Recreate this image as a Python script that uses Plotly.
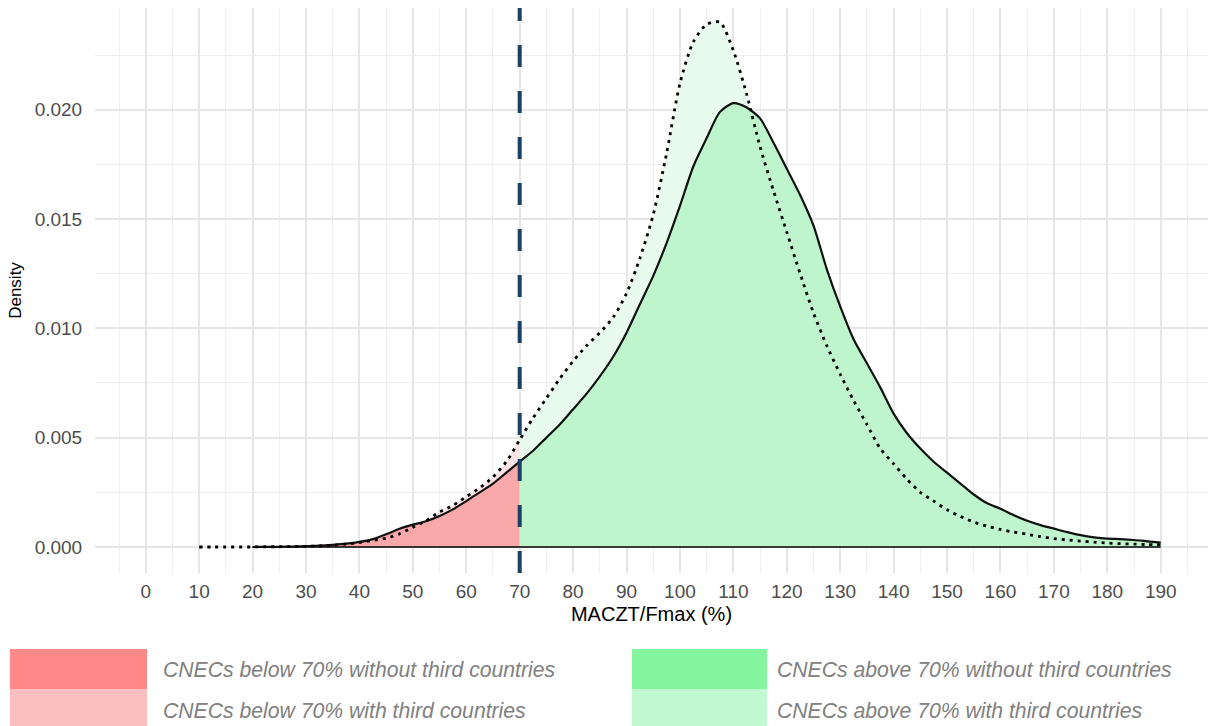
import plotly.graph_objects as go

# ---------------- data ----------------
threshold = 70

with_x = [10, 12.5, 15, 17.5, 20, 22.5, 25, 27.5, 30, 32.5, 35, 37.5, 40, 42.5, 45, 47.5,
          50, 52.5, 55, 57.5, 60, 62.5, 65, 67.5, 70, 72.5, 75, 77.5, 80, 82.5, 85, 87.5,
          90, 92.5, 95, 97.5, 100, 102.5, 105, 107.5, 110, 112.5, 115, 117.5, 120, 122.5,
          125, 127.5, 130, 132.5, 135, 137.5, 140, 142.5, 145, 147.5, 150, 152.5, 155,
          157.5, 160, 162.5, 165, 167.5, 170, 172.5, 175, 177.5, 180, 182.5, 185, 187.5, 190]
with_y = [0, 0, 0, 0, 0, 0.00001, 0.00001, 0.00002, 0.00003, 0.00005, 0.00008, 0.00013,
          0.0002, 0.0003, 0.0004, 0.0006, 0.0009, 0.0012, 0.0016, 0.0019, 0.0023, 0.0027,
          0.0032, 0.0039, 0.0049, 0.0059, 0.0068, 0.0077, 0.0085, 0.0092, 0.0098, 0.0105,
          0.0116, 0.0132, 0.0152, 0.0180, 0.0212, 0.0231, 0.0239, 0.0240, 0.0227, 0.0207,
          0.0183, 0.0163, 0.0144, 0.0125, 0.0107, 0.0092, 0.0079, 0.0067, 0.0056, 0.0045,
          0.0038, 0.0031, 0.0025, 0.0021, 0.0017, 0.0014, 0.00114, 0.00095, 0.0008,
          0.00068, 0.00058, 0.00047, 0.00038, 0.00032, 0.00027, 0.00022, 0.00018, 0.00015,
          0.00013, 0.00011, 0.0001]

without_x = [20, 22.5, 25, 27.5, 30, 32.5, 35, 37.5, 40, 42.5, 45, 47.5, 50, 52.5, 55, 57.5,
             60, 62.5, 65, 67.5, 70, 72.5, 75, 77.5, 80, 82.5, 85, 87.5, 90, 92.5, 95, 97.5,
             100, 102.5, 105, 107.5, 110, 112.5, 115, 117.5, 120, 122.5, 125, 127.5, 130,
             132.5, 135, 137.5, 140, 142.5, 145, 147.5, 150, 152.5, 155, 157.5, 160, 162.5,
             165, 167.5, 170, 172.5, 175, 177.5, 180, 182.5, 185, 187.5, 190]
without_y = [0, 0.000005, 0.00001, 0.00002, 0.00004, 0.00006, 0.0001, 0.00015, 0.00023,
             0.00036, 0.00058, 0.00083, 0.00102, 0.00118, 0.00142, 0.00172, 0.0021, 0.0025,
             0.0029, 0.0034, 0.0039, 0.0044, 0.0050, 0.0056, 0.0063, 0.0070, 0.0078, 0.0087,
             0.0098, 0.0111, 0.0124, 0.0139, 0.0156, 0.0174, 0.0187, 0.0199, 0.0203, 0.0201,
             0.0196, 0.0185, 0.0173, 0.0161, 0.0147, 0.0127, 0.0110, 0.0095, 0.0084, 0.0073,
             0.0061, 0.0052, 0.0045, 0.0039, 0.0034, 0.0029, 0.0024, 0.0020, 0.00175,
             0.00145, 0.0012, 0.0010, 0.00084, 0.00068, 0.00054, 0.00044, 0.00038, 0.00036,
             0.00032, 0.00026, 0.0002]

x_ticks = list(range(0, 200, 10))
y_ticks = [0, 0.005, 0.010, 0.015, 0.020]

legend_labels = ["CNECs below 70% without third countries",
                 "CNECs below 70% with third countries",
                 "CNECs above 70% without third countries",
                 "CNECs above 70% with third countries"]
legend_colors = ["#FF8888", "#FCBFBF", "#84F59E", "#C0F8D1"]

# fill colours as rendered in the panel
fill_with_below = "#FCE4E4"
fill_with_above = "#E9FBEE"
fill_without_below = "#F9A9A9"
fill_without_above = "#BEF5CC"


def split(xs, ys, thr):
    lo = [(a, b) for a, b in zip(xs, ys) if a <= thr]
    hi = [(a, b) for a, b in zip(xs, ys) if a >= thr]
    return ([p[0] for p in lo], [p[1] for p in lo]), ([p[0] for p in hi], [p[1] for p in hi])


fig = go.Figure()

(wl_x, wl_y), (wh_x, wh_y) = split(with_x, with_y, threshold)
(nl_x, nl_y), (nh_x, nh_y) = split(without_x, without_y, threshold)

SM = 0.7
for xs, ys, col in [(wl_x, wl_y, fill_with_below), (wh_x, wh_y, fill_with_above),
                    (nl_x, nl_y, fill_without_below), (nh_x, nh_y, fill_without_above)]:
    fig.add_trace(go.Scatter(x=xs, y=ys, mode="lines", fill="tozeroy", fillcolor=col,
                             line=dict(width=0, shape="spline", smoothing=SM),
                             hoverinfo="skip", showlegend=False))

# baseline of the solid density outline
fig.add_trace(go.Scatter(x=[min(without_x), max(without_x)], y=[0, 0], mode="lines",
                         line=dict(color="black", width=1.5), showlegend=False, hoverinfo="skip"))

# curves
fig.add_trace(go.Scatter(x=without_x, y=without_y, mode="lines",
                         line=dict(color="#111111", width=2.2, shape="spline", smoothing=SM),
                         showlegend=False))
fig.add_trace(go.Scatter(x=with_x, y=with_y, mode="lines",
                         line=dict(color="black", width=2.8, dash="3px,5px", shape="spline",
                                   smoothing=SM),
                         showlegend=False))

# threshold line
fig.add_shape(type="line", x0=threshold, x1=threshold, y0=0, y1=1, xref="x", yref="paper",
              line=dict(color="#1C3F66", width=4, dash="22px,24px"), layer="above")

# custom legend (below the plot)
PL, PT, PW, PH = 95, 8, 1113, 565


def px2paper_x(px):
    return (px - PL) / PW


def px2paper_y(py):
    return (PT + PH - py) / PH


boxes = [(10, 147, 649, 689), (10, 147, 689, 730), (632, 767, 649, 689), (632, 767, 689, 730)]
text_pos = [(161, 669), (161, 710), (775, 669), (775, 710)]
for (x0, x1, y0, y1), col, lab, (tx, ty) in zip(boxes, legend_colors, legend_labels, text_pos):
    fig.add_shape(type="rect", xref="paper", yref="paper",
                  x0=px2paper_x(x0), x1=px2paper_x(x1), y0=px2paper_y(y1), y1=px2paper_y(y0),
                  fillcolor=col, line=dict(width=0), layer="above")
    fig.add_annotation(xref="paper", yref="paper", x=px2paper_x(tx), y=px2paper_y(ty),
                       text="<i>" + lab + "</i>", showarrow=False, xanchor="left",
                       yanchor="middle",
                       font=dict(family="Liberation Sans, Arial", size=21.2, color="#808080"))

fig.update_layout(
    width=1208, height=726,
    margin=dict(l=PL, r=0, t=PT, b=726 - PT - PH, pad=0),
    paper_bgcolor="white", plot_bgcolor="white",
    font=dict(family="Liberation Sans, Arial", color="#4D4D4D"),
    showlegend=False,
    xaxis=dict(
        range=[-9.5, 198.85], tickmode="array", tickvals=x_ticks,
        ticktext=[str(v) for v in x_ticks],
        showgrid=True, gridcolor="#E6E6E6", gridwidth=1.5, zeroline=False,
        ticks="outside", ticklen=1, tickcolor="rgba(0,0,0,0)",
        tickfont=dict(size=19, color="#4D4D4D"),
        minor=dict(tickvals=[v + 5 for v in range(-10, 200, 10)], showgrid=True,
                   gridcolor="#EEEEEE", gridwidth=1.2),
        title=dict(text="MACZT/Fmax (%)", font=dict(size=20, color="black"), standoff=6),
        automargin=False, fixedrange=True,
    ),
    yaxis=dict(
        range=[-0.00119, 0.02465], tickmode="array", tickvals=y_ticks,
        ticktext=[f"{v:.3f}" for v in y_ticks],
        showgrid=True, gridcolor="#E6E6E6", gridwidth=1.5, zeroline=False,
        ticks="outside", ticklen=8, tickcolor="rgba(0,0,0,0)",
        tickfont=dict(size=19, color="#4D4D4D"),
        minor=dict(tickvals=[0.0025, 0.0075, 0.0125, 0.0175, 0.0225], showgrid=True,
                   gridcolor="#EEEEEE", gridwidth=1.2),
        title=dict(text="Density", font=dict(size=17, color="black"), standoff=8),
        automargin=False, fixedrange=True,
    ),
)

fig.write_html("out.html", config={"displayModeBar": False},
               post_script="document.body.style.margin='0';document.body.style.overflow='hidden';")
